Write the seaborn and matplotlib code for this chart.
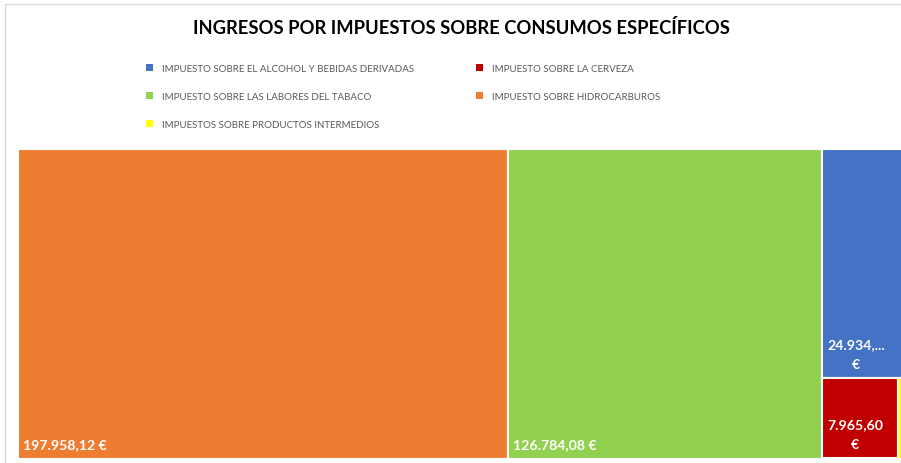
import matplotlib
matplotlib.use("Agg")
import matplotlib.pyplot as plt
from matplotlib.patches import Rectangle, Patch
import seaborn as sns

# ---- data ----
categories = [
    "IMPUESTO SOBRE EL ALCOHOL Y BEBIDAS DERIVADAS",
    "IMPUESTO SOBRE LA CERVEZA",
    "IMPUESTO SOBRE LAS LABORES DEL TABACO",
    "IMPUESTO SOBRE HIDROCARBUROS",
    "IMPUESTOS SOBRE PRODUCTOS INTERMEDIOS",
]
values = [24934.50, 7965.60, 126784.08, 197958.12, 749.0]
labels = ["24.934,...\n€", "7.965,60\n€", "126.784,08 €", "197.958,12 €", ""]
colors = ["#4472C4", "#C00000", "#92D050", "#ED7D31", "#FFFF00"]
title = "INGRESOS POR IMPUESTOS SOBRE CONSUMOS ESPECÍFICOS"

sns.set_theme(style="white")
plt.rcParams["font.family"] = ["Lato", "DejaVu Sans"]

W, H = 901, 464
fig = plt.figure(figsize=(W / 100, H / 100), dpi=100)

# chart frame (cropped on right/bottom)
fig.patches.append(Rectangle((5 / W, -0.2), 2, 1.2 - 5 / H, transform=fig.transFigure,
                             fill=False, edgecolor="#D9D9D9", lw=1))

# treemap area
DX, DY = 887.3, 310.0
ax = fig.add_axes([18 / W, 4.5 / H, DX / W, DY / H])
ax.set_xlim(0, DX)
ax.set_ylim(DY, 0)
ax.axis("off")


def worst(row, side):
    s = sum(row)
    return max(max(side * side * r / (s * s), s * s / (side * side * r)) for r in row)


def squarify(sizes, x, y, dx, dy):
    rects = []
    sizes = list(sizes)
    while sizes:
        short = min(dx, dy)
        row = [sizes[0]]
        i = 1
        while i < len(sizes) and worst(row + [sizes[i]], short) <= worst(row, short):
            row.append(sizes[i])
            i += 1
        s = sum(row)
        if dx >= dy:
            w = s / dy
            yy = y
            for r in row:
                h = r / w
                rects.append((x, yy, w, h))
                yy += h
            x += w
            dx -= w
        else:
            h = s / dx
            xx = x
            for r in row:
                w = r / h
                rects.append((xx, y, w, h))
                xx += w
            y += h
            dy -= h
        sizes = sizes[i:]
    return rects


order = sorted(range(len(values)), key=lambda i: -values[i])
total = sum(values)
scaled = [values[i] * DX * DY / total for i in order]
rects = squarify(scaled, 0, 0, DX, DY)

for idx, (x, y, w, h) in zip(order, rects):
    ax.add_patch(Rectangle((x, y), w, h, facecolor=colors[idx], edgecolor="white", lw=1.5))
    if labels[idx]:
        ax.text(x + 5, y + h - 8, labels[idx], color="white", fontsize=10.2,
                fontweight="bold", ha="left", va="bottom", multialignment="center",
                linespacing=1.85)

fig.text(461 / W, 1 - 28 / H, title, ha="center", va="center",
         fontsize=13.2, fontweight="bold", color="black")

handles = [Patch(facecolor=colors[i], edgecolor="none") for i in [0, 2, 4, 1, 3]]
leg_labels = [categories[i] for i in [0, 2, 4, 1, 3]]
fig.legend(handles, leg_labels, loc="upper left", bbox_to_anchor=(146 / W, 1 - 65 / H),
           ncol=2, frameon=False, fontsize=7.0, labelcolor="#595959",
           handlelength=0.75, handleheight=0.75, handletextpad=0.9,
           labelspacing=1.95, columnspacing=6.35, borderpad=0, borderaxespad=0)

fig.savefig("out.png", dpi=100)
